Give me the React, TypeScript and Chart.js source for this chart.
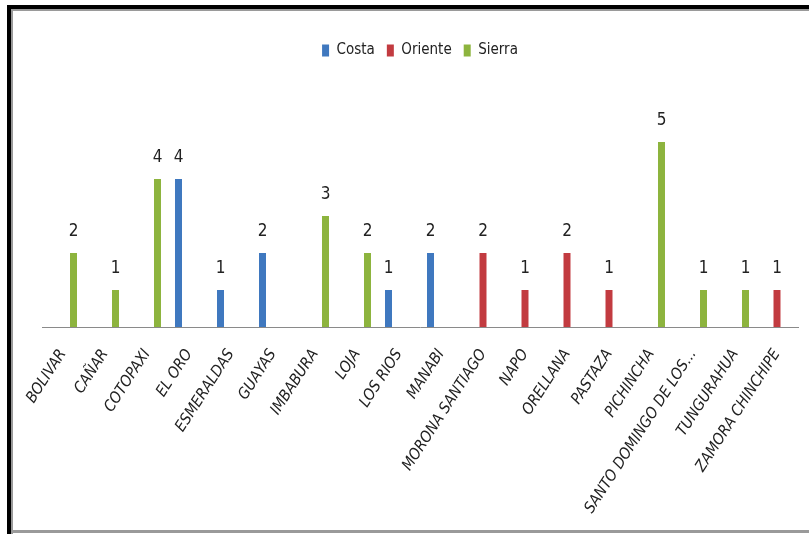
import React, { useEffect, useRef } from "react";
import { Chart, registerables } from "chart.js";

Chart.register(...registerables);

const categories: string[] = [
  "BOLIVAR", "CAÑAR", "COTOPAXI", "EL ORO", "ESMERALDAS", "GUAYAS", "IMBABURA",
  "LOJA", "LOS RIOS", "MANABI", "MORONA SANTIAGO", "NAPO", "ORELLANA", "PASTAZA",
  "PICHINCHA", "SANTO DOMINGO DE LOS...", "TUNGURAHUA", "ZAMORA CHINCHIPE",
];
const costa: (number | null)[] = [null, null, null, 4, 1, 2, null, null, 1, 2, null, null, null, null, null, null, null, null];
const oriente: (number | null)[] = [null, null, null, null, null, null, null, null, null, null, 2, 1, 2, 1, null, null, null, 1];
const sierra: (number | null)[] = [2, 1, 4, null, null, null, 3, 2, null, null, null, null, null, null, 5, 1, 1, null];

const FONT = "'DejaVu Sans Condensed', 'Liberation Sans Narrow', 'DejaVu Sans', sans-serif";

const labelPlugin = {
  id: "valueLabels",
  afterDatasetsDraw(chart: any) {
    const ctx = chart.ctx;
    ctx.save();
    ctx.font = `17px ${FONT}`;
    ctx.fillStyle = "#222";
    ctx.textAlign = "center";
    ctx.textBaseline = "alphabetic";
    chart.data.datasets.forEach((ds: any, i: number) => {
      const meta = chart.getDatasetMeta(i);
      meta.data.forEach((el: any, j: number) => {
        const v = ds.data[j];
        if (v === null || v === undefined) return;
        ctx.fillText(String(v), el.x, el.y - 17);
      });
    });
    ctx.restore();
  },
};

export default function App() {
  const ref = useRef<HTMLCanvasElement | null>(null);
  useEffect(() => {
    if (!ref.current) return;
    const chart = new Chart(ref.current, {
      type: "bar",
      data: {
        labels: categories,
        datasets: [
          { label: "Costa", data: costa, backgroundColor: "#3F78BF", borderWidth: 0 },
          { label: "Oriente", data: oriente, backgroundColor: "#C23B40", borderWidth: 0 },
          { label: "Sierra", data: sierra, backgroundColor: "#8DB43E", borderWidth: 0 },
        ],
      },
      options: {
        responsive: false,
        animation: false,
        categoryPercentage: 0.75,
        barPercentage: 0.667,
        layout: { padding: { left: 29, right: 11, top: 20, bottom: 0 } },
        plugins: {
          legend: {
            position: "top",
            labels: {
              boxWidth: 7,
              boxHeight: 12,
              padding: 12,
              color: "#222",
              font: { family: FONT, size: 15 },
            },
          },
          tooltip: { enabled: false },
        },
        scales: {
          x: {
            grid: { display: false },
            border: { display: true, color: "#8a8a8a", width: 1 },
            ticks: {
              maxRotation: 57,
              minRotation: 57,
              autoSkip: false,
              color: "#222",
              padding: 11,
              font: { family: FONT, size: 15.5, style: "italic" },
            },
            afterFit: (scale: any) => {
              scale.height = 203;
            },
          },
          y: {
            display: false,
            min: 0,
            max: 7,
          },
        },
      },
      plugins: [labelPlugin],
    });
    return () => chart.destroy();
  }, []);

  return (
    <div style={{ position: "fixed", left: 0, top: 0, width: 809, height: 534, background: "#fff", overflow: "hidden" }}>
      <div style={{ position: "absolute", left: 7, top: 5, right: 0, height: 4, background: "#000" }} />
      <div style={{ position: "absolute", left: 7, top: 5, bottom: 0, width: 4, background: "#000" }} />
      <div style={{ position: "absolute", left: 11, top: 9, right: 0, height: 2, background: "#9a9a9a" }} />
      <div style={{ position: "absolute", left: 11, top: 9, bottom: 0, width: 2, background: "#9a9a9a" }} />
      <div style={{ position: "absolute", left: 11, bottom: 1, right: 0, height: 3, background: "#9a9a9a" }} />
      <canvas ref={ref} width={796} height={519} style={{ position: "absolute", left: 13, top: 11 }} />
    </div>
  );
}
